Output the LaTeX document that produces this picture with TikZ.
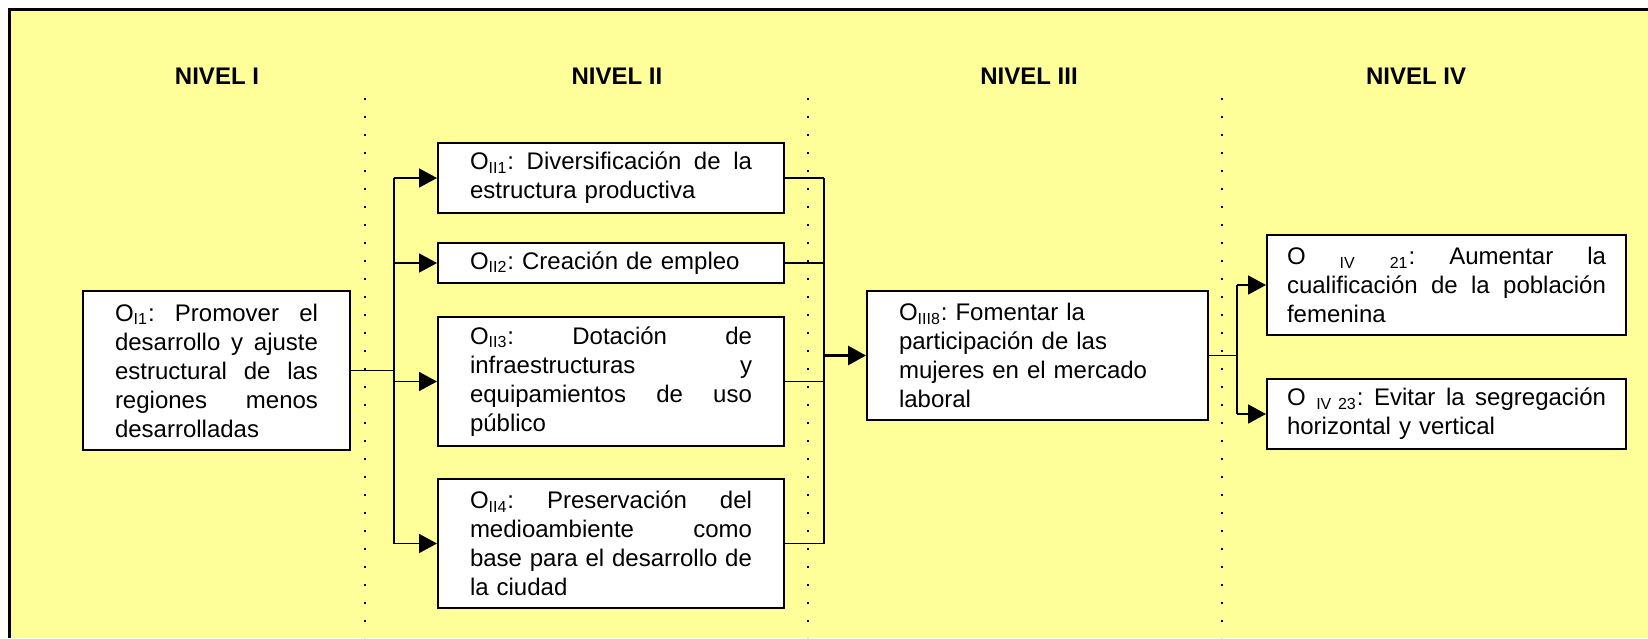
\documentclass[tikz,border=0pt]{standalone}
\usepackage{fontspec}
\setmainfont{Liberation Sans}
\usetikzlibrary{arrows.meta}
\definecolor{bgyellow}{HTML}{FFFF99}
\newlength{\twA}\setlength{\twA}{101.5pt}
\newlength{\twB}\setlength{\twB}{141pt}
\newlength{\twC}\setlength{\twC}{138.5pt}
\newlength{\twD}\setlength{\twD}{159.5pt}
\frenchspacing
\newcommand{\jl}[2]{\leavevmode\hbox to #1{\frenchspacing\spaceskip=0.278em plus 1fil\relax #2}}
\begin{document}
\begin{tikzpicture}[x=0.5pt,y=-0.5pt,
  obj/.style={draw, line width=1pt, fill=white, inner sep=0pt, align=left,
              font=\fontsize{12}{14.5}\selectfont\frenchspacing},
  head/.style={font=\fontsize{12}{14.5}\selectfont\bfseries, inner sep=0pt, anchor=base},
  conn/.style={line width=0.9pt},
  bus/.style={line width=1pt},
  arr/.style={line width=0.9pt, -{Triangle[length=9pt,width=9.5pt]}},
  sepline/.style={line width=1pt, dash pattern=on 1pt off 8pt}]
\useasboundingbox (0,0) rectangle (1648,638);
\fill[white] (0,0) rectangle (1648,638);
\fill[bgyellow] (9.5,9.5) rectangle (1648,638);
\draw[line width=1.2pt] (1648,9.5) -- (9.5,9.5) -- (9.5,638);

% level separators
\draw[sepline] (365,98) -- (365,638);
\draw[sepline] (808,98) -- (808,638);
\draw[sepline] (1222,98) -- (1222,638);

% headings
\node[head] (h1) at (217,84) {NIVEL I};
\node[head] (h2) at (617,84) {NIVEL II};
\node[head] (h3) at (1029,84) {NIVEL III};
\node[head] (h4) at (1416,84) {NIVEL IV};

% boxes
\node[obj, minimum width=133.5pt, minimum height=79.5pt, text width=\twA] (I1) at (216.5,370.5)
 {\jl{\twA}{O\textsubscript{I1}: Promover el}\\
  \jl{\twA}{desarrollo y ajuste}\\
  \jl{\twA}{estructural de las}\\
  \jl{\twA}{regiones menos}\\
  desarrolladas};

\node[obj, minimum width=173pt, minimum height=35pt, text width=\twB] (II1) at (611,178)
 {\jl{\twB}{O\textsubscript{II1}: Diversificación de la}\\
  estructura productiva};

\node[obj, minimum width=173pt, minimum height=20pt, text width=\twB] (II2) at (611,263)
 {O\textsubscript{II2}: Creación de empleo};

\node[obj, minimum width=173pt, minimum height=64.5pt, text width=\twB] (II3) at (611,381.5)
 {\jl{\twB}{O\textsubscript{II3}: Dotación de}\\
  \jl{\twB}{infraestructuras y}\\
  \jl{\twB}{equipamientos de uso}\\
  público};

\node[obj, minimum width=173pt, minimum height=64.5pt, text width=\twB] (II4) at (611,543.5)
 {\jl{\twB}{O\textsubscript{II4}: Preservación del}\\
  \jl{\twB}{medioambiente como}\\
  \jl{\twB}{base para el desarrollo de}\\
  la ciudad};

\node[obj, minimum width=170.5pt, minimum height=64.5pt, text width=\twC] (III8) at (1037.5,355.5)
 {O\textsubscript{III8}: Fomentar la\\
  participación de las\\
  mujeres en el mercado\\
  laboral};

\node[obj, minimum width=179.5pt, minimum height=50pt, text width=\twD] (IV21) at (1446.5,285)
 {\jl{\twD}{O \textsubscript{IV} \textsubscript{21}: Aumentar la}\\
  \jl{\twD}{cualificación de la población}\\
  femenina};

\node[obj, minimum width=179.5pt, minimum height=35pt, text width=\twD] (IV23) at (1446.5,414)
 {\jl{\twD}{O \textsubscript{IV 23}: Evitar la segregación}\\
  horizontal y vertical};

% bus coordinates
\coordinate (bA) at (394,0);
\coordinate (bB) at (824,0);
\coordinate (bC) at (1237,0);

% level I -> level II
\draw[conn] (I1.east) -- (I1.east -| bA);
\draw[bus] (bA |- II1.west) -- (bA |- II4.west);
\draw[arr] (bA |- II1.west) -- (II1.west);
\draw[arr] (bA |- II2.west) -- (II2.west);
\draw[arr] (bA |- II3.west) -- (II3.west);
\draw[arr] (bA |- II4.west) -- (II4.west);

% level II -> level III
\draw[conn] (II1.east) -- (II1.east -| bB);
\draw[conn] (II2.east) -- (II2.east -| bB);
\draw[conn] (II3.east) -- (II3.east -| bB);
\draw[conn] (II4.east) -- (II4.east -| bB);
\draw[bus] (bB |- II1.east) -- (bB |- II4.east);
\draw[arr, line width=1.5pt] (bB |- III8.west) -- (III8.west);

% level III -> level IV
\draw[conn] (III8.east) -- (III8.east -| bC);
\draw[bus] (bC |- IV21.west) -- (bC |- IV23.west);
\draw[arr] (bC |- IV21.west) -- (IV21.west);
\draw[arr] (bC |- IV23.west) -- (IV23.west);
\end{tikzpicture}
\end{document}
